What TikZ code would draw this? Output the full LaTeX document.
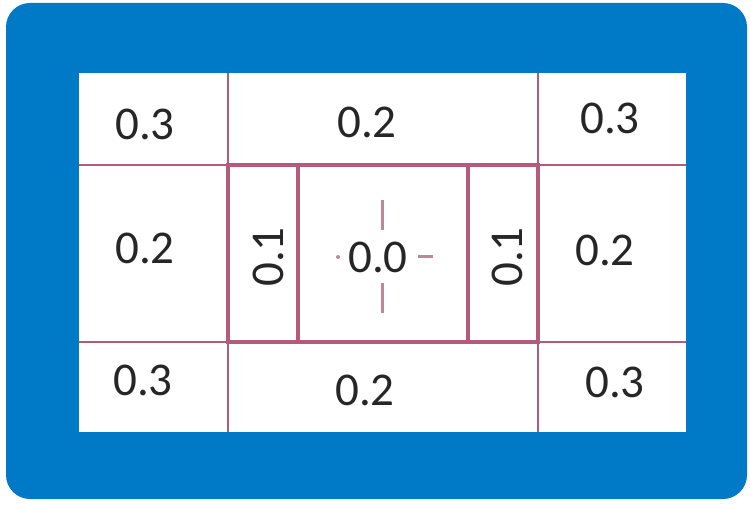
\documentclass[tikz,border=0pt]{standalone}
\usepackage{fontspec}
\setmainfont{Carlito}
\definecolor{frameblue}{RGB}{0,121,199}
\definecolor{gridpink}{RGB}{180,90,122}
\definecolor{crossgrey}{RGB}{190,135,150}
\tikzset{
  lbl/.style={font=\fontsize{47}{47}\selectfont, text=black!85, inner sep=0pt},
  thinline/.style={draw=gridpink, line width=2.6pt},
  thickline/.style={draw=gridpink, line width=3.6pt},
  crossline/.style={draw=crossgrey, line width=3pt}
}
\begin{document}
\begin{tikzpicture}[x=1pt,y=-1pt]
\useasboundingbox (0,0) rectangle (750,505);
\fill[white] (0,0) rectangle (750,505);
% blue frame
\fill[frameblue, rounded corners=24pt] (6,3) rectangle (747,499);
\fill[white] (79,73) rectangle (686,432);
% grid
\draw[thinline] (79,165) -- (686,165);
\draw[thinline] (79,342) -- (686,342);
\draw[thinline] (228,73) -- (228,432);
\draw[thinline] (538,73) -- (538,432);
\draw[thickline] (228,165) rectangle (538,342);
\draw[thickline] (298,165) -- (298,342);
\draw[thickline] (468,165) -- (468,342);
% crosshair
\draw[crossline] (382,200) -- (382,230);
\draw[crossline] (382,283) -- (382,313);
\draw[crossline] (418,257) -- (433,257);
\fill[crossgrey] (338,257) circle (2pt);
% labels
\node[lbl] (tl) at (145,124) {0.3};
\node[lbl] (tm) at (367,122) {0.2};
\node[lbl] (tr) at (610,118) {0.3};
\node[lbl] (ml) at (145,248) {0.2};
\node[lbl, rotate=90] (mil) at (268,257) {0.1};
\node[lbl] (mc) at (378,257) {0.0};
\node[lbl, rotate=90] (mir) at (507,257) {0.1};
\node[lbl] (mr) at (605,250) {0.2};
\node[lbl] (bl) at (143,380) {0.3};
\node[lbl] (bm) at (365,390) {0.2};
\node[lbl] (br) at (615,382) {0.3};
\end{tikzpicture}
\end{document}
